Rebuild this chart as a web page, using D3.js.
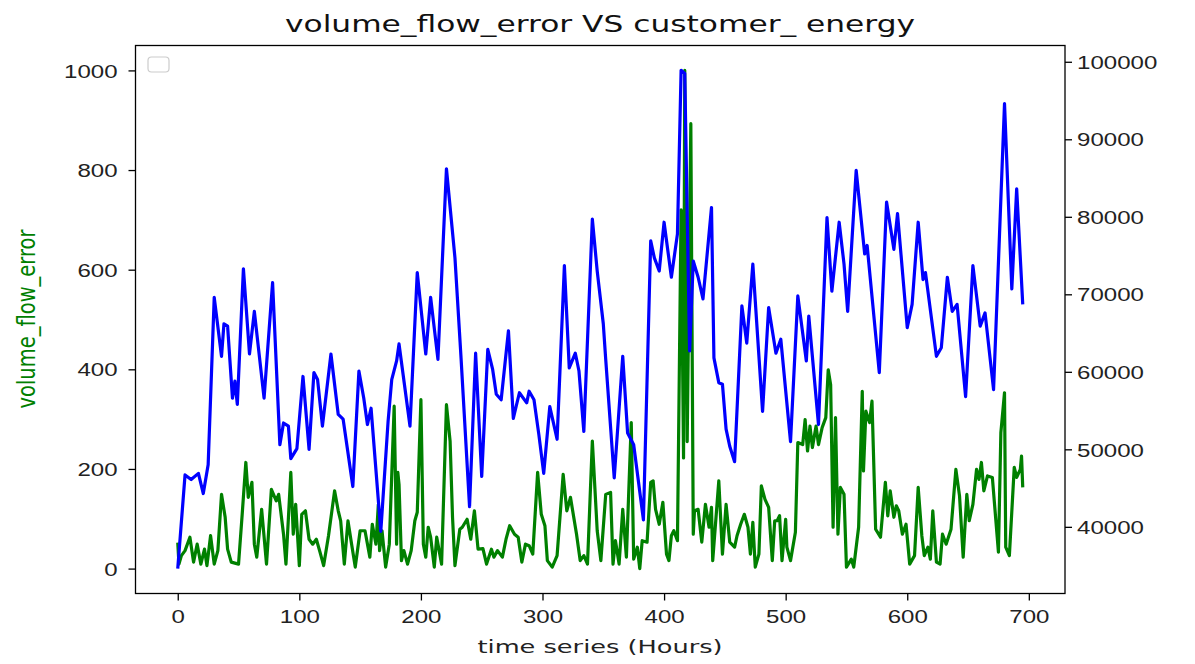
<!DOCTYPE html>
<html>
<head>
<meta charset="utf-8">
<script src="https://cdn.jsdelivr.net/npm/d3@7"></script>
<style>
  body { margin: 0; background: #fff; }
  svg { display: block; font-family: "DejaVu Sans", sans-serif; }
</style>
</head>
<body>
<svg id="chart" width="1195" height="664"></svg>
<script>
// green series, left axis
const greenHours = [0,1,3,6,10,13,16,19,22,24,27,30,33,36,39,41,44,50,53,56,58,61,63,65,69,73,77,81,83,87,89,93,95,97,100,102,105,108,111,114,117,120,124,129,132,134,137,140,143,146,150,154,158,160,163,165,166,168,171,174,178,180,181,182,184,186,189,192,195,197,200,202,204,206,208,211,213,217,221,224,226,228,232,234,238,241,244,247,251,254,258,260,263,267,270,273,277,280,283,286,289,292,296,299,302,304,308,312,317,320,323,328,331,334,337,341,345,348,352,356,358,360,363,366,369,373,375,378,380,382,386,389,391,393,396,399,402,404,406,408,411,414,416,417,419,422,424,425,428,431,434,437,439,440,445,448,451,454,458,460,463,466,469,471,473,475,478,480,483,486,489,491,493,495,497,500,501,504,508,510,514,516,518,520,522,525,527,530,533,535,537,539,541,543,545,548,550,554,556,560,563,564,566,569,571,574,578,582,584,586,589,591,593,596,599,602,606,609,612,614,617,619,621,624,627,629,632,636,640,643,646,649,651,654,657,659,661,663,666,670,674,675,677,680,681,684,688,690,693,694,695];
const greenValues = [52,9,26,36,63,13,49,9,39,6,66,9,36,149,103,39,13,9,109,213,143,173,49,23,119,9,159,136,149,69,9,193,69,129,6,109,116,59,49,59,33,6,66,156,116,96,9,96,49,3,76,76,23,89,49,129,36,76,3,49,326,49,193,169,16,36,9,36,96,113,339,49,23,83,63,3,63,9,329,256,103,6,79,83,99,59,116,39,40,9,39,23,36,23,59,86,69,63,13,49,46,29,193,109,86,16,3,26,189,116,143,69,16,26,9,256,76,16,149,153,9,56,9,119,23,293,19,43,0,56,53,173,176,119,89,133,29,16,66,76,56,720,222,1000,255,893,69,116,119,53,129,83,123,16,176,29,129,53,43,66,89,109,83,29,93,3,29,166,139,123,16,96,96,106,16,99,43,16,73,253,249,299,236,286,243,286,249,283,303,399,369,83,303,69,163,149,3,19,3,83,356,196,316,293,336,79,63,173,106,156,103,126,116,69,89,9,26,163,66,26,43,19,116,13,9,69,49,79,199,146,23,149,96,129,199,179,213,156,186,183,63,33,273,353,43,26,203,183,199,226,163];

// blue series, right axis
const blueHours = [0,6,11,17,21,25,30,36,38,41,45,47,49,54,59,63,71,78,84,87,91,93,98,103,108,112,115,119,126,132,136,144,149,153,156,159,167,173,176,180,182,191,197,204,208,214,221,228,233,240,245,250,255,259,262,266,272,276,281,287,289,293,297,301,306,312,318,322,327,330,334,341,345,350,352,359,366,370,375,383,389,392,396,400,406,411,414,417,421,424,428,432,439,441,445,448,451,454,458,464,468,473,481,486,492,496,504,510,517,519,527,534,538,544,548,551,558,565,567,577,583,589,592,600,604,609,613,615,624,628,633,637,641,648,654,660,664,671,680,686,690,695];
const blueValues = [34600,46700,46100,46900,44300,48000,69600,62000,66200,65900,56600,58800,55800,73300,62300,67800,56600,71500,50600,53400,53000,48800,50100,59400,50000,59900,59000,53000,62300,54500,53900,45200,60100,56600,53200,55300,39400,53600,59000,61400,63600,53000,72800,62300,69600,61600,86200,74700,61800,42600,62400,46500,62900,60300,57100,56400,65300,54000,57300,56000,57500,56400,51900,46900,55500,51300,73700,60500,62400,60100,52300,79700,73000,66200,61600,46300,62000,52100,50600,40900,76900,74700,73000,79300,72200,77800,98900,98500,62700,74300,72200,69400,81200,61800,58600,58400,52600,50400,48400,68500,63700,73900,54900,68300,62400,64200,51000,69800,61400,67200,53200,79900,70400,79300,73900,67800,86000,75200,76300,59900,81900,75800,80400,65700,68700,79300,71900,72800,62000,63100,72200,67800,68700,56800,73700,65900,67600,57700,94600,70700,83600,68700];

const xTicks = [0, 100, 200, 300, 400, 500, 600, 700];
const leftTicks = [0, 200, 400, 600, 800, 1000];
const rightTicks = [40000, 50000, 60000, 70000, 80000, 90000, 100000];

const titleText = "volume_flow_error VS customer_ energy";
const xLabel = "time series (Hours)";
const yLabel = "volume_flow_error";

const margin = { top: 45.5, right: 130, bottom: 70.5, left: 135.5 };
const W = 1195, H = 664;
const stretch = 1.3;

const svg = d3.select("#chart");
svg.append("rect").attr("width", W).attr("height", H).attr("fill", "#fff");

const x = d3.scaleLinear().domain([-34.75, 729.75]).range([margin.left, W - margin.right]);
const yL = d3.scaleLinear().domain([-50, 1050]).range([H - margin.bottom, margin.top]);
const yR = d3.scaleLinear().domain([31400, 102100]).range([H - margin.bottom, margin.top]);

// widen glyphs like the source picture
function widen(sel) {
    sel.each(function() {
        const w = this.getComputedTextLength();
        d3.select(this).attr("textLength", w * stretch).attr("lengthAdjust", "spacingAndGlyphs");
    });
}

const green = greenHours.map((h, i) => ({ h, v: greenValues[i] }));
const blue = blueHours.map((h, i) => ({ h, v: blueValues[i] }));

svg.append("path")
    .datum(green)
    .attr("fill", "none")
    .attr("stroke", "#008000")
    .attr("stroke-width", 3.2)
    .attr("stroke-linejoin", "round")
    .attr("d", d3.line().x(d => x(d.h)).y(d => yL(d.v)));

svg.append("path")
    .datum(blue)
    .attr("fill", "none")
    .attr("stroke", "#0000ff")
    .attr("stroke-width", 3.2)
    .attr("stroke-linejoin", "round")
    .attr("d", d3.line().x(d => x(d.h)).y(d => yR(d.v)));

// frame
svg.append("rect")
    .attr("x", margin.left).attr("y", margin.top)
    .attr("width", W - margin.right - margin.left)
    .attr("height", H - margin.bottom - margin.top)
    .attr("fill", "none").attr("stroke", "#000").attr("stroke-width", 1.3);

function styleAxis(g) {
    g.select(".domain").remove();
    g.selectAll(".tick line").attr("stroke", "#000").attr("stroke-width", 1.3);
    g.selectAll(".tick text").attr("fill", "#222").attr("font-size", 18.5);
}

const fmt = d3.format("d");

const gx = svg.append("g")
    .attr("transform", `translate(0,${H - margin.bottom})`)
    .call(d3.axisBottom(x).tickValues(xTicks).tickFormat(fmt).tickSize(7).tickPadding(9))
    .call(styleAxis);
gx.selectAll(".tick text").attr("dy", null).attr("y", 29).call(widen);

const gl = svg.append("g")
    .attr("transform", `translate(${margin.left},0)`)
    .call(d3.axisLeft(yL).tickValues(leftTicks).tickFormat(fmt).tickSize(7).tickPadding(11))
    .call(styleAxis);
gl.selectAll(".tick text").attr("dy", "0.36em").call(widen);

const gr = svg.append("g")
    .attr("transform", `translate(${W - margin.right},0)`)
    .call(d3.axisRight(yR).tickValues(rightTicks).tickFormat(fmt).tickSize(7).tickPadding(5))
    .call(styleAxis);
gr.selectAll(".tick text").attr("dy", "0.36em").call(widen);

// title and labels
svg.append("text")
    .attr("x", 600).attr("y", 32)
    .attr("text-anchor", "middle")
    .attr("font-size", 22.5).attr("fill", "#111")
    .attr("textLength", 630).attr("lengthAdjust", "spacingAndGlyphs")
    .text(titleText);

svg.append("text")
    .attr("x", 600).attr("y", 653)
    .attr("text-anchor", "middle")
    .attr("font-size", 18.5).attr("fill", "#222")
    .attr("textLength", 245).attr("lengthAdjust", "spacingAndGlyphs")
    .text(xLabel);

svg.append("text")
    .attr("transform", `translate(35,319) rotate(-90) scale(1,${stretch})`)
    .attr("text-anchor", "middle")
    .attr("font-size", 19.5).attr("fill", "#008000")
    .text(yLabel);

// empty legend box
svg.append("rect")
    .attr("x", 148).attr("y", 57).attr("width", 21).attr("height", 15).attr("rx", 3.5)
    .attr("fill", "#fff").attr("stroke", "#cccccc").attr("stroke-width", 1.2);
</script>
</body>
</html>
